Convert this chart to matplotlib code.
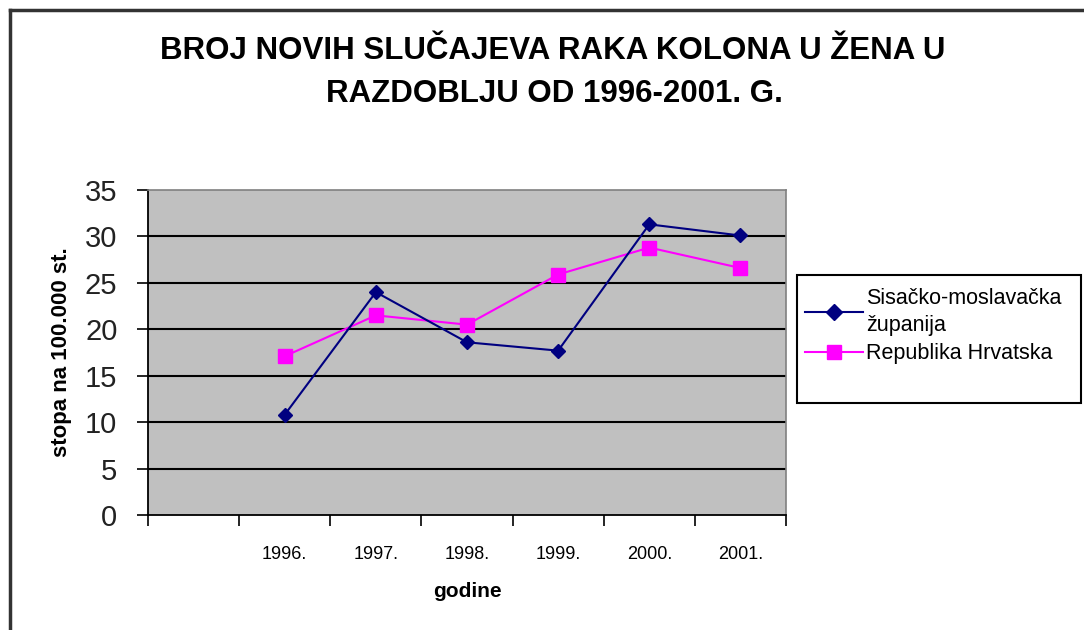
import matplotlib
matplotlib.use("Agg")
import matplotlib.pyplot as plt
from matplotlib.lines import Line2D
from matplotlib.patches import Rectangle

categories = ["", "1996.", "1997.", "1998.", "1999.", "2000.", "2001."]
years = ["1996.", "1997.", "1998.", "1999.", "2000.", "2001."]
sisak = [10.8, 24.0, 18.6, 17.7, 31.3, 30.1]
hrvatska = [17.1, 21.5, 20.5, 25.9, 28.8, 26.6]
series_names = ["Sisačko-moslavačka\nžupanija", "Republika Hrvatska"]
yticks = [0, 5, 10, 15, 20, 25, 30, 35]

plt.rcParams['font.family'] = ['Liberation Sans', 'DejaVu Sans']

fig = plt.figure(figsize=(10.84, 6.30), dpi=100)
ax = fig.add_axes([148/1084, 1-515/630, (786-148)/1084, (515-190)/630])
ax.set_facecolor('#c0c0c0')

xpos = [categories.index(y) + 0.5 for y in years]
ax.plot(xpos, sisak, color='#000080', lw=1.5, marker='D', ms=7.5, mfc='#000080', mec='#000080', zorder=4)
ax.plot(xpos, hrvatska, color='#ff00ff', lw=1.5, marker='s', ms=10, mfc='#ff00ff', mec='#ff00ff', zorder=3)

ax.set_xlim(0, len(categories))
ax.set_ylim(0, 35)
ax.set_yticks(yticks)
ax.set_yticklabels([str(t) for t in yticks], fontsize=21, color='#222222')
ax.set_xticks(range(len(categories) + 1))
ax.set_xticklabels([])
ax.set_xticks([i + 0.5 for i in range(len(categories))], minor=True)
ax.set_xticklabels(categories, minor=True, fontsize=13)
ax.tick_params(axis='x', which='minor', length=0, pad=22)
ax.tick_params(axis='x', which='major', length=8, width=1.2, direction='out', color='black')
ax.tick_params(axis='y', length=8, width=1.2, direction='out', pad=14)

for t in yticks[1:-1]:
    ax.axhline(t, color='black', lw=1.5, zorder=1)

for s in ['top', 'right']:
    ax.spines[s].set_color('#808080')
    ax.spines[s].set_linewidth(1.2)
for s in ['left', 'bottom']:
    ax.spines[s].set_color('black')
    ax.spines[s].set_linewidth(1.3)

ax.set_ylabel("stopa na 100.000 st.", fontsize=16, fontweight='bold', labelpad=9)
ax.set_xlabel("godine", fontsize=15, fontweight='bold', labelpad=14)

fig.text(553/1084, 1-51/630, "BROJ NOVIH SLUČAJEVA RAKA KOLONA U ŽENA U", ha='center', va='center',
         fontsize=22.5, fontweight='bold')
fig.text(554/1084, 1-94/630, "RAZDOBLJU OD 1996-2001. G.", ha='center', va='center',
         fontsize=22.5, fontweight='bold')

handles = [Line2D([], [], color='#000080', lw=1.5, marker='D', ms=8),
           Line2D([], [], color='#ff00ff', lw=1.5, marker='s', ms=10)]
leg = fig.legend(handles, series_names, loc='upper left',
                 bbox_to_anchor=(790/1084, 1-273/630), fontsize=15.5,
                 frameon=False, handlelength=2.7, borderpad=0.2,
                 labelspacing=0.35, handletextpad=0.15)
leg.get_texts()[0].set_linespacing(1.35)
fig.add_artist(Rectangle((797/1084, 1-403/630), (1081-797)/1084, (403-275)/630,
                         transform=fig.transFigure, fill=False, edgecolor='black', lw=1.5))

# outer frame
fig.add_artist(Line2D([10/1084, 10/1084], [0, 1-10/630], transform=fig.transFigure, color='#333333', lw=2.5))
fig.add_artist(Line2D([10/1084, 1], [1-10/630, 1-10/630], transform=fig.transFigure, color='#333333', lw=2.5))

fig.savefig("out.png", dpi=100, facecolor='white')
